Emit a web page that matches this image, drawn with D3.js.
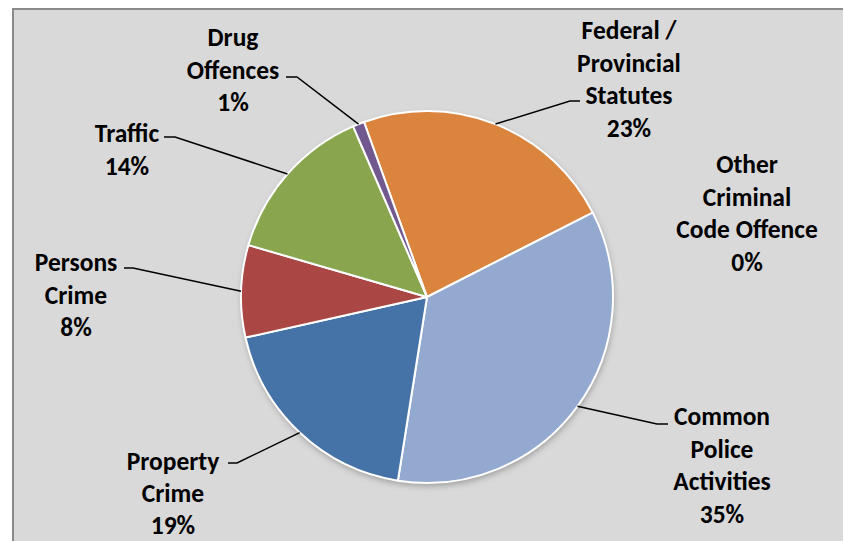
<!DOCTYPE html>
<html>
<head>
<meta charset="utf-8">
<script src="https://cdn.jsdelivr.net/npm/d3@7"></script>
<style>
  html, body { margin: 0; padding: 0; background: #ffffff; }
  svg { display: block; }
  .lbl { font-family: Carlito, Lato, "Open Sans", sans-serif; font-weight: 700; fill: #000; }
</style>
</head>
<body>
<svg id="chart" width="843" height="541"></svg>
<script>
// Offence categories, in drawing order (clockwise)
const categories = [
  "Federal / Provincial Statutes",
  "Other Criminal Code Offence",
  "Common Police Activities",
  "Property Crime",
  "Persons Crime",
  "Traffic",
  "Drug Offences"
];
// Share of occurrences, percent
const shares = [23, 0, 35, 19, 8, 14, 1];
// Label text lines for each category
const labelLines = [
  ["Federal /", "Provincial", "Statutes"],
  ["Other", "Criminal", "Code Offence"],
  ["Common", "Police", "Activities"],
  ["Property", "Crime"],
  ["Persons", "Crime"],
  ["Traffic"],
  ["Drug", "Offences"]
];
const colors = ["#DB843D", "#4198AF", "#93A9CF", "#4572A7", "#AA4643", "#89A54E", "#71588F"];

const width = 843, height = 541;
const cx = 427, cy = 297, radius = 186;
const rotation = -19.8 * Math.PI / 180;
const lineGap = 32.5;
const fontSize = 25.5;

// Label placement: centre x, centre y of first line, and leader knee / end
const labelLayout = [
  { x: 629, y: 30,  knee: [570, 101], tail: [580, 101] },
  { x: 747, y: 164, knee: null },
  { x: 722, y: 416, knee: [657, 424], tail: [668, 424] },
  { x: 173, y: 461, knee: [237, 463], tail: [228, 463] },
  { x: 76,  y: 262, knee: [133, 268], tail: [124, 268] },
  { x: 127, y: 133, knee: [175, 137], tail: [164, 137] },
  { x: 233, y: 37,  knee: [297, 77],  tail: [286, 77] }
];

const svg = d3.select("#chart");

// Plot frame
svg.append("rect")
  .attr("x", 13).attr("y", 9)
  .attr("width", width).attr("height", height)
  .attr("fill", "#d9d9d9")
  .attr("stroke", "#8a8a8a")
  .attr("stroke-width", 2);

const defs = svg.append("defs");
const shadow = defs.append("filter").attr("id", "pieShadow")
  .attr("x", "-20%").attr("y", "-20%").attr("width", "140%").attr("height", "140%");
shadow.append("feDropShadow")
  .attr("dx", 1).attr("dy", 3).attr("stdDeviation", 3)
  .attr("flood-color", "#000").attr("flood-opacity", 0.28);

const data = categories.map((c, i) => ({ category: c, value: shares[i], i }));

const pie = d3.pie()
  .sort(null)
  .value(d => d.value)
  .startAngle(rotation)
  .endAngle(rotation + 2 * Math.PI);

const arcs = pie(data);
const arc = d3.arc().innerRadius(0).outerRadius(radius);

const g = svg.append("g").attr("transform", `translate(${cx},${cy})`);

g.append("circle").attr("r", radius).attr("fill", "#ffffff").attr("filter", "url(#pieShadow)");

g.selectAll("path.slice")
  .data(arcs.filter(a => a.data.value > 0))
  .join("path")
  .attr("class", "slice")
  .attr("d", arc)
  .attr("fill", d => colors[d.data.i])
  .attr("stroke", "#ffffff")
  .attr("stroke-width", 2)
  .attr("stroke-linejoin", "round");

// Leader lines from the slice edge to each label
arcs.forEach((a, i) => {
  const lay = labelLayout[i];
  if (!lay.knee) return;
  const mid = (a.startAngle + a.endAngle) / 2;
  const ex = cx + radius * Math.sin(mid);
  const ey = cy - radius * Math.cos(mid);
  svg.append("path")
    .attr("d", d3.line()([[ex, ey], lay.knee, lay.tail]))
    .attr("fill", "none")
    .attr("stroke", "#000")
    .attr("stroke-width", 1.5);
});

// Labels: category name lines plus percentage
arcs.forEach((a, i) => {
  const lay = labelLayout[i];
  const lines = labelLines[i].concat([d3.format(".0f")(a.data.value) + "%"]);
  const t = svg.append("text")
    .attr("class", "lbl")
    .attr("text-anchor", "middle")
    .style("font-size", fontSize + "px");
  lines.forEach((ln, k) => {
    t.append("tspan")
      .attr("x", lay.x)
      .attr("y", lay.y + k * (i === 3 ? lineGap - 0.5 : lineGap))
      .attr("dy", "0.36em")
      .text(ln);
  });
});
</script>
</body>
</html>
